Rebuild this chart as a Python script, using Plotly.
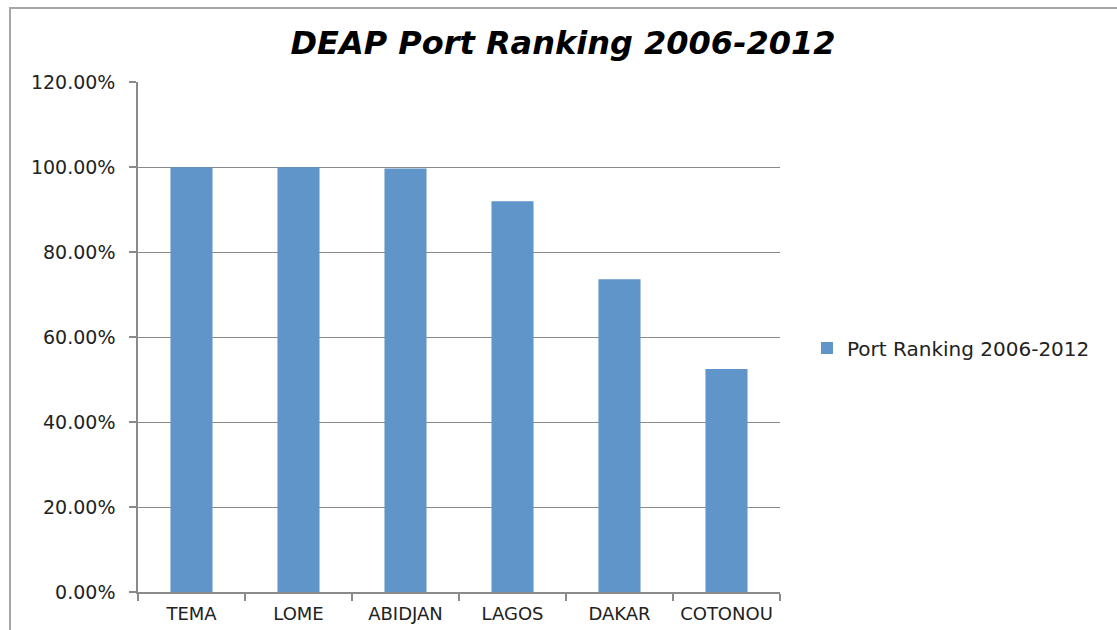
import plotly.graph_objects as go

# Port ranking data
ports = ["TEMA", "LOME", "ABIDJAN", "LAGOS", "DAKAR", "COTONOU"]
ranking = [1.000, 1.000, 0.997, 0.920, 0.736, 0.525]
series_name = "Port Ranking 2006-2012"
chart_title = "DEAP Port Ranking 2006-2012"

W, H = 1117, 630
L, R, T, B = 138, 337, 82, 38
pw, ph = W - L - R, H - T - B

BAR = "#5F95C9"
GRID = "#8A8A8A"
FONT = "DejaVu Sans"

fig = go.Figure()
fig.add_trace(go.Bar(
    x=ports, y=ranking, name=series_name,
    marker=dict(color=BAR, line=dict(width=0)),
    showlegend=True,
))

# outer chart frame (pixel positions converted to paper coords)
def px_x(p):
    return (p - L) / pw

def px_y(p):
    return (H - B - p) / ph

fig.add_shape(type="rect", xref="paper", yref="paper",
              x0=px_x(10), x1=px_x(W + 20), y0=px_y(H + 20), y1=px_y(8),
              line=dict(color="#A6A6A6", width=2), fillcolor="rgba(0,0,0,0)",
              layer="below")

fig.update_layout(
    width=W, height=H,
    margin=dict(l=L, r=R, t=T, b=B, autoexpand=False),
    paper_bgcolor="white", plot_bgcolor="white",
    bargap=0.607,
    font=dict(family=FONT, color="#222222"),
    title=dict(text="<b><i>" + chart_title + "</i></b>",
               x=563 / W, xanchor="center", xref="container",
               y=1 - 43 / H, yanchor="middle", yref="container",
               font=dict(family=FONT, size=32, color="#000000")),
    legend=dict(x=px_x(807), y=px_y(348), xanchor="left", yanchor="middle",
                font=dict(family=FONT, size=20, color="#222222"),
                bgcolor="rgba(0,0,0,0)"),
    xaxis=dict(showgrid=False, showline=True, linecolor=GRID, linewidth=1.5,
               ticks="outside", tickson="boundaries", ticklen=7,
               tickcolor=GRID, tickwidth=1.5, automargin=False, tickangle=0,
               tickfont=dict(family=FONT, size=18, color="#222222"),
               ticklabelstandoff=5),
    yaxis=dict(range=[0, 1.2004], tickvals=[0, 0.2, 0.4, 0.6, 0.8, 1.0, 1.2],
               tickformat=".2%", automargin=False,
               showgrid=True, gridcolor=GRID, gridwidth=1.2,
               showline=True, linecolor=GRID, linewidth=1.5,
               ticks="outside", ticklen=7, tickcolor=GRID, tickwidth=1.5,
               tickfont=dict(family=FONT, size=19, color="#222222"),
               ticklabelstandoff=10, zeroline=False),
)

fig.write_html("out.html")
